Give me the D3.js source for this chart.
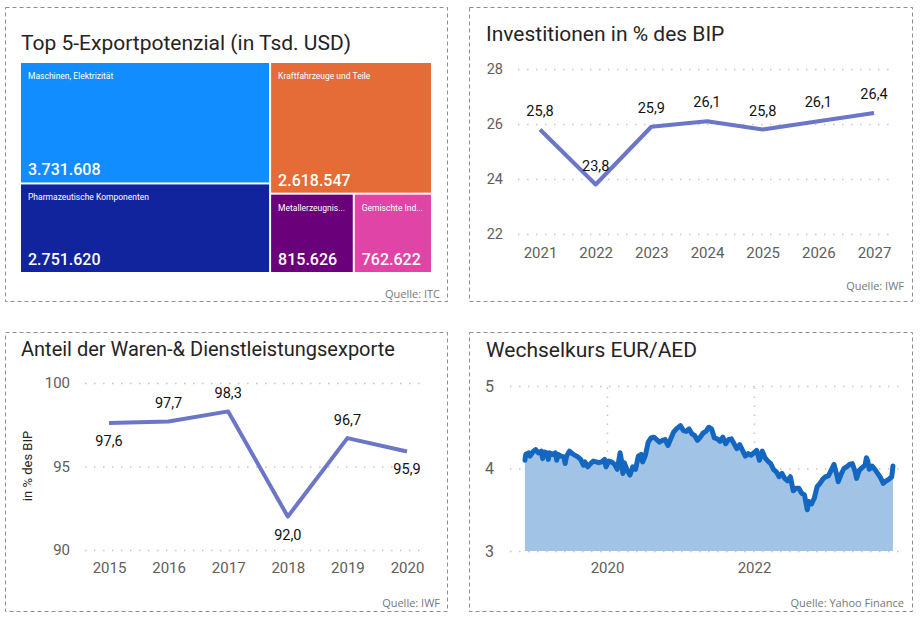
<!DOCTYPE html>
<html><head><meta charset="utf-8">
<script src="https://cdn.jsdelivr.net/npm/d3@7"></script>
<style>
body{margin:0;background:#fff}
svg{display:block}
text{font-family:Roboto,"DejaVu Sans",sans-serif}
</style>
</head><body>
<svg id="c" width="920" height="619"></svg>
<script>
// ---------- DATA ----------
const tmCategories = ["Maschinen, Elektrizität","Pharmazeutische Komponenten","Kraftfahrzeuge und Teile","Metallerzeugnisse","Gemischte Industrieerzeugnisse"];
const tmValues = [3731608, 2751620, 2618547, 815626, 762622];
const tmGroups = ["A","A","B","B.C","B.C"];
const tmColors = ["#118DFF","#12239E","#E66C37","#6B007B","#E044A7"];

const invYears = ["2021","2022","2023","2024","2025","2026","2027"];
const invValues = [25.8, 23.8, 25.9, 26.1, 25.8, 26.1, 26.4];
const invTicks = [22, 24, 26, 28];

const expYears = ["2015","2016","2017","2018","2019","2020"];
const expValues = [97.6, 97.7, 98.3, 92.0, 96.7, 95.9];
const expTicks = [90, 95, 100];

const fxDates = ["2018-11-19","2018-11-23","2018-12-07","2018-12-14","2018-12-28","2019-01-11","2019-01-25","2019-02-08","2019-02-15","2019-02-22","2019-03-08","2019-03-15","2019-03-22","2019-04-05","2019-04-19","2019-04-26","2019-05-03","2019-05-17","2019-05-31","2019-06-07","2019-06-14","2019-06-28","2019-07-12","2019-07-26","2019-08-09","2019-08-23","2019-09-06","2019-09-13","2019-09-27","2019-10-11","2019-10-25","2019-11-08","2019-11-22","2019-12-06","2019-12-20","2019-12-27","2020-01-10","2020-01-24","2020-02-07","2020-02-21","2020-03-06","2020-03-13","2020-03-20","2020-03-27","2020-04-10","2020-04-24","2020-05-08","2020-05-22","2020-06-05","2020-06-19","2020-06-26","2020-07-10","2020-07-24","2020-08-07","2020-08-21","2020-09-04","2020-09-18","2020-10-02","2020-10-16","2020-10-30","2020-11-13","2020-11-27","2020-12-11","2020-12-31","2021-01-15","2021-01-29","2021-02-12","2021-02-26","2021-03-12","2021-03-26","2021-04-09","2021-04-23","2021-05-07","2021-05-21","2021-06-04","2021-06-18","2021-07-02","2021-07-16","2021-07-30","2021-08-13","2021-08-27","2021-09-10","2021-09-24","2021-10-08","2021-10-22","2021-11-05","2021-11-19","2021-12-03","2021-12-17","2021-12-31","2022-01-14","2022-01-28","2022-02-11","2022-02-25","2022-03-11","2022-03-25","2022-04-08","2022-04-22","2022-05-06","2022-05-20","2022-06-03","2022-06-17","2022-07-01","2022-07-15","2022-07-29","2022-08-12","2022-08-26","2022-09-09","2022-09-23","2022-09-30","2022-10-14","2022-10-28","2022-11-11","2022-11-25","2022-12-09","2022-12-23","2023-01-06","2023-01-20","2023-02-03","2023-02-17","2023-02-24","2023-03-10","2023-03-24","2023-04-07","2023-04-21","2023-05-05","2023-05-19","2023-05-26","2023-06-09","2023-06-23","2023-07-07","2023-07-14","2023-07-21","2023-07-28","2023-08-11","2023-08-25","2023-09-08","2023-09-22","2023-10-06","2023-10-20","2023-11-03","2023-11-17","2023-11-23"];
const fxValues = [4.10,4.17,4.19,4.15,4.20,4.23,4.19,4.21,4.12,4.20,4.19,4.11,4.19,4.17,4.19,4.10,4.17,4.15,4.14,4.06,4.15,4.21,4.18,4.16,4.14,4.11,4.04,4.08,4.02,4.06,4.09,4.08,4.07,4.08,4.11,4.02,4.09,4.08,4.05,3.99,4.19,4.10,3.94,4.07,3.98,3.92,4.02,3.99,4.15,4.17,4.08,4.16,4.32,4.37,4.38,4.35,4.32,4.34,4.35,4.28,4.36,4.44,4.48,4.52,4.46,4.45,4.48,4.42,4.40,4.34,4.38,4.43,4.45,4.50,4.48,4.37,4.36,4.33,4.38,4.30,4.35,4.36,4.30,4.24,4.29,4.22,4.15,4.18,4.16,4.19,4.22,4.10,4.21,4.13,4.09,4.06,3.99,3.96,3.90,3.94,3.88,3.85,3.90,3.73,3.76,3.76,3.70,3.68,3.50,3.60,3.57,3.64,3.78,3.82,3.87,3.90,3.91,3.98,4.05,3.92,3.84,3.93,4.00,4.02,4.05,4.06,3.96,3.88,3.98,4.01,4.04,4.13,4.09,3.99,4.03,3.99,3.94,3.89,3.82,3.85,3.87,3.90,4.03];
const fxYTicks = [3, 4, 5];
const fxXTicks = ["2020-01-01","2022-01-01"];

// ---------- SETUP ----------
const de = d3.formatLocale({decimal: ",", thousands: ".", grouping: [3], currency: ["", " €"]});
const fmtInt = de.format(",d");
const fmtTick = de.format("d");
const fmt1 = de.format(".1f");
const svg = d3.select("#c");
svg.append("rect").attr("width",920).attr("height",619).attr("fill","#fff");

const TITLE = "#252423", AXIS = "#605E5C", GRID = "#C8C6C4";
const panels = [[5.5,7.5,442,294],[469.5,7.5,443,294],[5.5,332.5,442,279],[469.5,332.5,443,279]];
svg.selectAll("rect.panel").data(panels).join("rect").attr("class","panel")
  .attr("x",d=>d[0]).attr("y",d=>d[1]).attr("width",d=>d[2]).attr("height",d=>d[3])
  .attr("fill","none").attr("stroke","#8E8E8E").attr("stroke-dasharray","4,3");

function title(x, y, t, fs){
  svg.append("text").attr("x",x).attr("y",y).attr("fill",TITLE)
    .attr("font-size",fs).text(t);
}
function source(x, y, t){
  svg.append("text").attr("x",x).attr("y",y).attr("text-anchor","end").attr("fill","#777")
    .style("font-family","'Open Sans',sans-serif").attr("font-size",11).text(t);
}
function styleGrid(g){
  g.select(".domain").remove();
  g.selectAll(".tick line").attr("stroke",GRID).attr("stroke-width",1.5).attr("stroke-dasharray","1.5,7.5");
  g.selectAll(".tick text").attr("fill",AXIS);
}

// ---------- PANEL 1: TREEMAP ----------
title(21, 50, "Top 5-Exportpotenzial (in Tsd. USD)", 21);
const rootObj = {name:"root", children:[]};
tmCategories.forEach((c,i)=>{
  let node = rootObj;
  tmGroups[i].split(".").forEach(k=>{
    let ch = node.children.find(n=>n.name===k);
    if(!ch){ ch = {name:k, children:[]}; node.children.push(ch); }
    node = ch;
  });
  node.children.push({name:c, value:tmValues[i], color:tmColors[i]});
});
const root = d3.hierarchy(rootObj).sum(d=>d.value||0);
d3.treemap().tile(d3.treemapSliceDice).size([410,209]).paddingInner(2)(root);
const tg = svg.append("g").attr("transform","translate(21,63)");
const leaves = tg.selectAll("g.leaf").data(root.leaves()).join("g").attr("class","leaf");
leaves.append("rect").attr("x",d=>d.x0).attr("y",d=>d.y0)
  .attr("width",d=>d.x1-d.x0).attr("height",d=>d.y1-d.y0).attr("fill",d=>d.data.color);
leaves.append("text").attr("x",d=>d.x0+7).attr("y",d=>d.y0+16).attr("fill","#fff")
  .attr("font-size",8.5).text(d=>d.data.name)
  .each(function(d){
    const maxW = (d.x1-d.x0)-14; const el = d3.select(this); let s = d.data.name;
    if(this.getComputedTextLength() > maxW){
      while(s.length>1){ s = s.slice(0,-1); el.text(s.trimEnd()+"..."); if(this.getComputedTextLength()<=maxW) break; }
    }
  });
leaves.append("text").attr("x",d=>d.x0+7).attr("y",d=>d.y1-7).attr("fill","#fff")
  .attr("font-size",16).attr("font-weight",500).text(d=>fmtInt(d.data.value));
source(440, 298, "Quelle: ITC");

// ---------- PANEL 2: INVESTITIONEN ----------
title(486, 41, "Investitionen in % des BIP", 21);
{
  const x = d3.scalePoint().domain(invYears).range([540,874]);
  const y = d3.scaleLinear().domain([22,28]).range([234,69]);
  const gy = svg.append("g").attr("transform","translate(518,0)")
    .call(d3.axisLeft(y).tickValues(invTicks).tickFormat(fmtTick).tickSize(-375).tickPadding(15));
  styleGrid(gy); gy.selectAll(".tick text").attr("font-size",14.5);
  const gx = svg.append("g").attr("transform","translate(0,234)")
    .call(d3.axisBottom(x).tickSize(0).tickPadding(13));
  gx.select(".domain").remove();
  gx.selectAll(".tick text").attr("fill",AXIS).attr("font-size",15);
  const line = d3.line().x((d,i)=>x(invYears[i])).y(d=>y(d));
  svg.append("path").datum(invValues).attr("d",line).attr("fill","none")
    .attr("stroke","#6B76C7").attr("stroke-width",4).attr("stroke-linejoin","round");
  svg.selectAll("text.invlab").data(invValues).join("text").attr("class","invlab")
    .attr("x",(d,i)=>x(invYears[i])).attr("y",d=>y(d)-14).attr("text-anchor","middle")
    .attr("fill","#111").attr("font-size",14.5).text(d=>fmt1(d));
}
source(904, 290, "Quelle: IWF");

// ---------- PANEL 3: ANTEIL EXPORTE ----------
title(21, 356, "Anteil der Waren-& Dienstleistungsexporte", 20);
{
  const x = d3.scalePoint().domain(expYears).range([109,407]);
  const y = d3.scaleLinear().domain([90,100]).range([550,383]);
  const gy = svg.append("g").attr("transform","translate(85,0)")
    .call(d3.axisLeft(y).tickValues(expTicks).tickFormat(fmtTick).tickSize(-340).tickPadding(15));
  styleGrid(gy); gy.selectAll(".tick text").attr("font-size",15);
  const gx = svg.append("g").attr("transform","translate(0,550)")
    .call(d3.axisBottom(x).tickSize(0).tickPadding(12));
  gx.select(".domain").remove();
  gx.selectAll(".tick text").attr("fill",AXIS).attr("font-size",15);
  svg.append("text").attr("transform","translate(32,466) rotate(-90)").attr("text-anchor","middle")
    .attr("fill",TITLE).attr("font-size",13).text("in % des BIP");
  const line = d3.line().x((d,i)=>x(expYears[i])).y(d=>y(d));
  svg.append("path").datum(expValues).attr("d",line).attr("fill","none")
    .attr("stroke","#6B76C7").attr("stroke-width",4).attr("stroke-linejoin","round");
  const below = new Set(["2015","2018","2020"]);
  svg.selectAll("text.explab").data(expValues).join("text").attr("class","explab")
    .attr("x",(d,i)=>x(expYears[i]))
    .attr("y",(d,i)=>below.has(expYears[i]) ? y(d)+23 : y(d)-13)
    .attr("text-anchor","middle").attr("fill","#111").attr("font-size",14.5)
    .text(d=>fmt1(d));
}
source(440, 607, "Quelle: IWF");

// ---------- PANEL 4: WECHSELKURS ----------
title(486, 357, "Wechselkurs EUR/AED", 21);
{
  const parse = d3.timeParse("%Y-%m-%d");
  const fx = fxDates.map((d,i)=>({date:parse(d), v:fxValues[i]}));
  const x = d3.scaleTime().domain([parse(fxXTicks[0]), parse(fxXTicks[1])]).range([607,754]);
  const y = d3.scaleLinear().domain([3,5]).range([551,386]);
  const gy = svg.append("g").attr("transform","translate(510,0)")
    .call(d3.axisLeft(y).tickValues(fxYTicks).tickFormat(fmtTick).tickSize(-392).tickPadding(16));
  styleGrid(gy); gy.selectAll(".tick text").attr("font-size",16);
  const gx = svg.append("g").attr("transform","translate(0,551)")
    .call(d3.axisBottom(x).tickValues(fxXTicks.map(parse)).tickFormat(d3.timeFormat("%Y"))
      .tickSize(-165).tickPadding(11));
  styleGrid(gx); gx.selectAll(".tick text").attr("font-size",15);
  svg.append("path").datum(fx)
    .attr("d", d3.area().x(d=>x(d.date)).y0(y(3)).y1(d=>y(d.v)))
    .attr("fill","#A0C3E6");
  svg.append("path").datum(fx)
    .attr("d", d3.line().x(d=>x(d.date)).y(d=>y(d.v)))
    .attr("fill","none").attr("stroke","#1467C0").attr("stroke-width",5)
    .attr("stroke-linejoin","round").attr("stroke-linecap","round");
}
source(904, 607, "Quelle: Yahoo Finance");
</script>
</body></html>
